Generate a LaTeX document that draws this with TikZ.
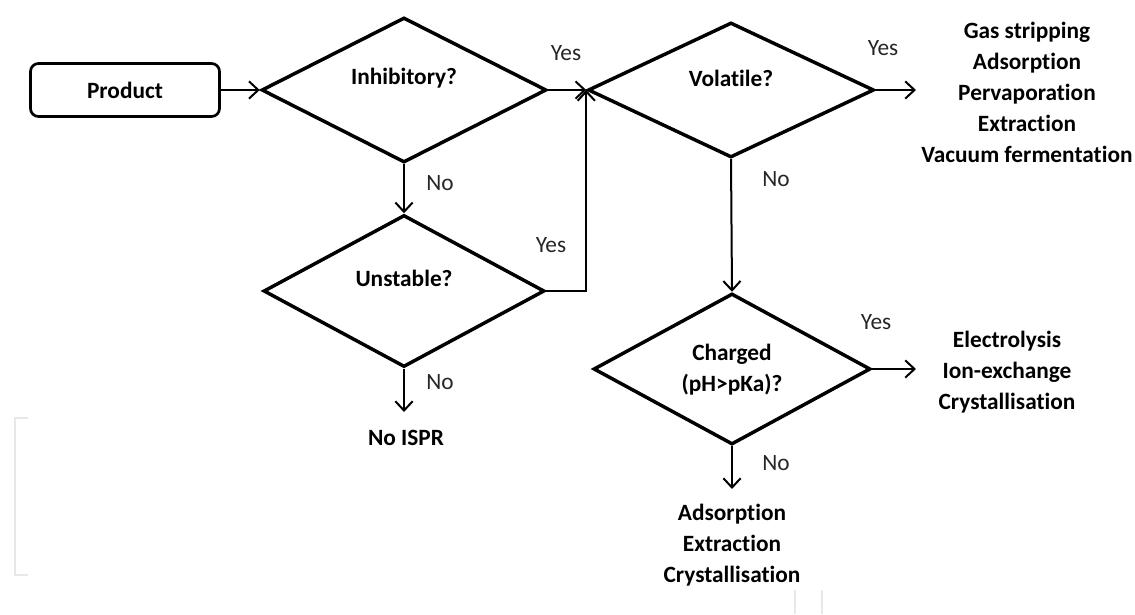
\documentclass[tikz,border=0pt]{standalone}
\usepackage{fontspec}
\setmainfont{Carlito}[Ligatures=NoCommon]
\usepackage{xcolor}
\usetikzlibrary{arrows.meta, positioning, shapes.geometric}
\definecolor{faint}{RGB}{232,232,232}
\newcommand{\lbl}{\fontsize{17.5}{23.25}\selectfont}

\begin{document}
\begin{tikzpicture}[x=0.75pt, y=-0.75pt,
    dia/.style={diamond, draw, line width=2.6pt, inner sep=0pt},
    arr/.style={-{Straight Barb[length=7pt, width=13pt, line width=1.5pt]}, line width=1.5pt},
    txt/.style={font=\lbl\bfseries, align=center, inner sep=0pt},
    yn/.style={font=\lbl, text=black!85, inner sep=0pt}]
  \useasboundingbox (0,0) rectangle (1135,614);

  % start box
  \node[draw, line width=2pt, rounded corners=6pt, minimum width=141.75pt,
        minimum height=39.75pt, font=\lbl\bfseries] (prod) at (125,90) {Product};

  % the four questions
  \node[dia, minimum width=213.75pt, minimum height=108.75pt] (inhib) at (404,90) {};
  \node[txt] (inhibq) at (404,78) {Inhibitory?};
  \node[dia, minimum width=210.75pt, minimum height=114pt] (unst) at (404,291) {};
  \node[txt] (unstq) at (404,278) {Unstable?};
  \node[dia, minimum width=214.5pt, minimum height=101.25pt] (vol) at (731,90) {};
  \node[txt] (volq) at (731,78) {Volatile?};
  \node[dia, minimum width=207.75pt, minimum height=113.25pt] (chg) at (732,369) {};
  \node[txt] (chgq) at (732,370) {Charged\\(pH>pKa)?};

  % outcomes
  \node[txt] (noispr) at (406,438) {No ISPR};
  \node[txt] (gas) at (1027,92)
    {Gas stripping\\Adsorption\\Pervaporation\\Extraction\\Vacuum fermentation};
  \node[txt] (elec) at (1007,372) {Electrolysis\\Ion-exchange\\Crystallisation};
  \node[txt] (ads) at (732,545) {Adsorption\\Extraction\\Crystallisation};
  \coordinate (gasin) at (916,90);
  \coordinate (elecin) at (916,369);
  \coordinate (noin) at (404,412);
  \coordinate (adsin) at (732,489);

  % connectors
  \draw[arr] (prod) -- (inhib);
  \draw[arr] (inhib.east) -- (vol.west);
  \draw[arr] (inhib.south) -- (unst.north);
  \draw[arr] (unst.east) -| (vol.west);
  \draw[arr] (unst.south) -- (noin);
  \draw[arr] (vol.east) -- (gasin);
  \draw[arr] (vol.south) -- (chg.north);
  \draw[arr] (chg.east) -- (elecin);
  \draw[arr] (chg.south) -- (adsin);

  % yes / no
  \node[yn] (y1) at (566,53) {Yes};
  \node[yn] (n1) at (440,183) {No};
  \node[yn] (y2) at (551,245) {Yes};
  \node[yn] (n2) at (440,382) {No};
  \node[yn] (y3) at (883,48) {Yes};
  \node[yn] (n3) at (776,179) {No};
  \node[yn] (y4) at (876,322) {Yes};
  \node[yn] (n4) at (776,463) {No};

  % faint scan marks
  \draw[faint, line width=1.5pt] (28,418) -- (15,418) -- (15,575) -- (28,575);
  \draw[faint, line width=1pt] (795,590) -- (795,614) (822,590) -- (822,614);
\end{tikzpicture}
\end{document}
